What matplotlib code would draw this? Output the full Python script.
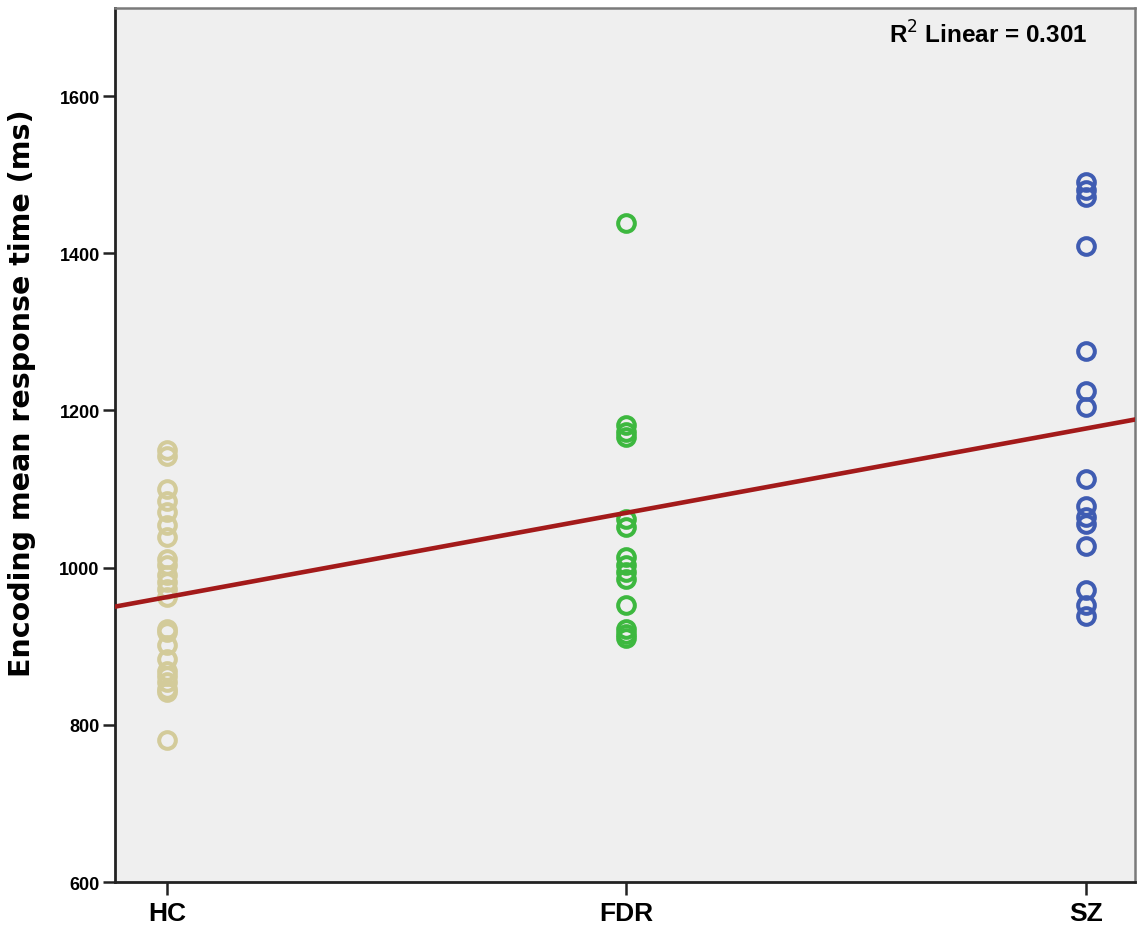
import numpy as np
import matplotlib
matplotlib.use("Agg")
import matplotlib.pyplot as plt

groups = ["HC", "FDR", "SZ"]
hc = [1150, 1142, 1100, 1085, 1071, 1054, 1039, 1011, 1003, 990, 982, 973, 962,
      922, 918, 901, 884, 868, 862, 855, 846, 842, 781]
fdr = [1438, 1181, 1172, 1166, 1062, 1052, 1014, 1003, 995, 986, 952, 922, 916, 910]
sz = [1490, 1481, 1471, 1409, 1275, 1225, 1204, 1113, 1079, 1065, 1056, 1028,
      971, 952, 939]
r2_text = "0.301"
colors = ["#D3CB9A", "#3DB83F", "#3F5CB2"]

fig = plt.figure(figsize=(11.40, 9.29), dpi=100)
ax = fig.add_axes([0.1009, 0.0495, 0.8947, 0.9408])
ax.set_facecolor("#EFEFEF")

xs_all, ys_all = [], []
for i, (vals, c) in enumerate(zip([hc, fdr, sz], colors), start=1):
    x = np.full(len(vals), i)
    ax.plot(x, vals, linestyle="none", marker="o", markersize=12,
            markerfacecolor="none", markeredgecolor=c, markeredgewidth=2.9, zorder=3)
    xs_all.extend(x)
    ys_all.extend(vals)

xlim = (0.887, 3.107)
slope, intercept = np.polyfit(xs_all, ys_all, 1)
xl = np.array(xlim)
ax.plot(xl, intercept + slope * xl, color="#A31A1A", lw=3.3, zorder=4)

ax.set_xlim(*xlim)
ax.set_ylim(600, 1712)
ax.set_xticks([1, 2, 3])
ax.set_xticklabels(groups, fontsize=19, fontweight="bold", family="Liberation Sans")
ax.set_yticks([600, 800, 1000, 1200, 1400, 1600])
ax.set_yticklabels(["600", "800", "1000", "1200", "1400", "1600"],
                   fontsize=13, fontweight="bold", family="Liberation Sans")
ax.tick_params(axis="x", length=9, width=1.8, color="#222222", pad=5)
ax.tick_params(axis="y", length=9, width=1.8, color="#222222", pad=2)

for s in ["left", "bottom"]:
    ax.spines[s].set_color("#222222")
    ax.spines[s].set_linewidth(2)
for s in ["top", "right"]:
    ax.spines[s].set_color("#7A7A7A")
    ax.spines[s].set_linewidth(1.8)

ax.set_ylabel("Encoding mean response time (ms)", fontsize=20.5,
              fontweight="bold", family="DejaVu Sans")
ax.yaxis.set_label_coords(-0.077, 0.560)

ax.text(0.953, 0.970, r"R$^{2}$ Linear = " + r2_text, transform=ax.transAxes,
        ha="right", va="center", fontsize=17.5, fontweight="bold", family="Liberation Sans")

fig.savefig("out.png", dpi=100, facecolor="white")
